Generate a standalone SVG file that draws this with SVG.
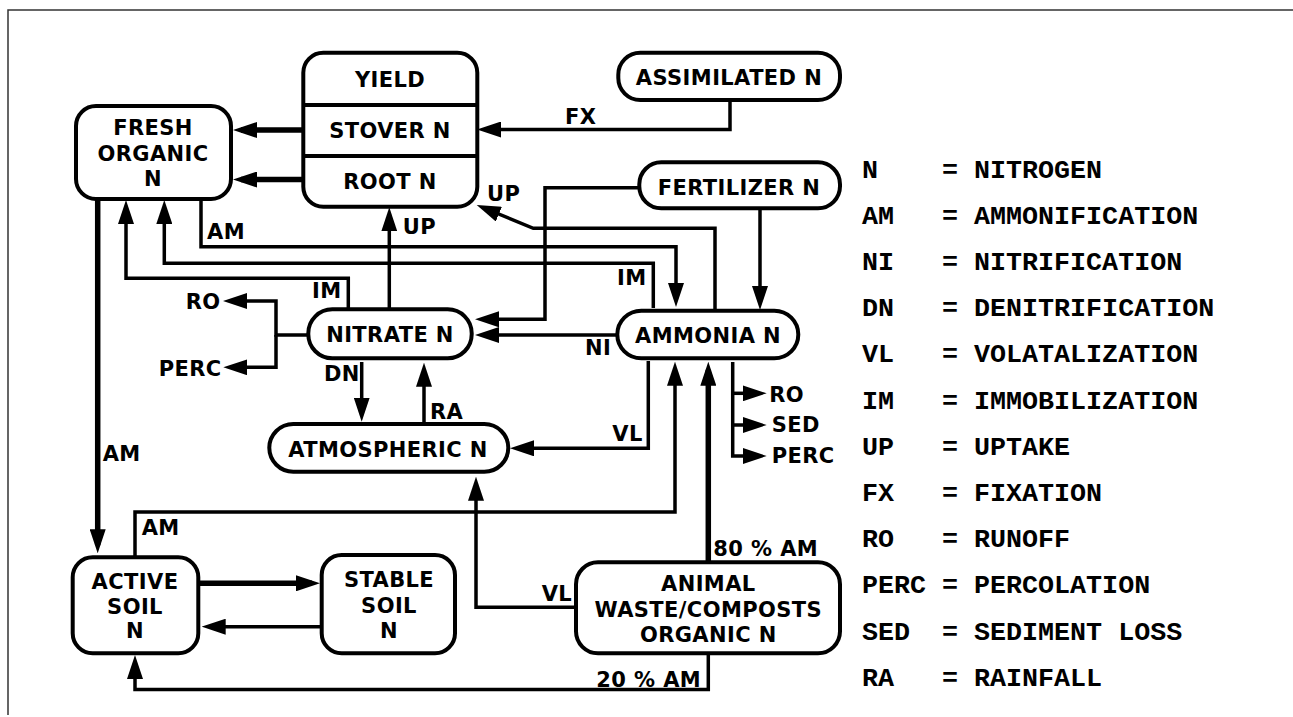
<svg xmlns="http://www.w3.org/2000/svg" width="1293" height="717" viewBox="0 0 1293 717">
<style>
.box{fill:#fff;stroke:#000;stroke-width:4}
.t{font-family:"DejaVu Sans",Verdana,sans-serif;font-weight:bold;font-size:21px;letter-spacing:0.4px;fill:#000}
.c{text-anchor:middle}
.ln{fill:none;stroke:#000;stroke-width:3.5;stroke-linejoin:miter}
.thick{stroke-width:5.5}
.a{marker-end:url(#ah)}
.leg{font-family:"Liberation Mono","Courier New",monospace;font-weight:bold;font-size:26.7px;fill:#000}
</style>
<defs>
<marker id="ah" markerUnits="userSpaceOnUse" markerWidth="24" markerHeight="16" viewBox="0 0 24 16" refX="16" refY="8" orient="auto"><path d="M0,0 L24,8 L0,16 Z" fill="#000"/></marker>
</defs>
<rect width="1293" height="717" fill="#fff"/>
<path d="M8,715 V10 H1293" fill="none" stroke="#333" stroke-width="1.5"/>

<g id="connectors">
<path class="ln a" d="M730,100 V129.5 H485"/>
<path class="ln thick a" d="M303,130 H241"/>
<path class="ln thick a" d="M303,179.5 H241"/>
<path class="ln a" d="M639,187.7 H545 V319.3 H483"/>
<path class="ln a" d="M760,208 V302"/>
<path class="ln a" d="M715,310 V228.3 H533.3 L484.1,208"/>
<path class="ln a" d="M389.3,309 V215.3"/>
<path class="ln a" d="M201,200 V246.7 H676 V299"/>
<path class="ln a" d="M653.3,308 V263.3 H164.3 V208"/>
<path class="ln a" d="M348.3,309 V278.3 H126 V208"/>
<path class="ln thick a" d="M97.7,199 V545.3"/>
<path class="ln a" d="M308,335 H276 V301 H231"/>
<path class="ln a" d="M276,335 V367.3 H231.3"/>
<path class="ln a" d="M361.7,362 V413.7"/>
<path class="ln a" d="M424,424 V370.7"/>
<path class="ln a" d="M617,335 H483"/>
<path class="ln a" d="M648.3,361 V448.3 H518"/>
<path class="ln a" d="M732.7,362 V456 H758.7"/>
<path class="ln a" d="M732.7,393.3 H758.7"/>
<path class="ln a" d="M732.7,425 H758.7"/>
<path class="ln a" d="M135,557 V512 H675 V369.7"/>
<path class="ln thick a" d="M708.3,562 V369.7"/>
<path class="ln a" d="M576,607.3 H476 V484.7"/>
<path class="ln a" d="M708.3,653 V689.5 H135 V663"/>
<path class="ln thick a" d="M198,583.3 H312"/>
<path class="ln a" d="M321.7,626.7 H209.7"/>
</g>

<g id="labels">
<text class="t" x="565" y="124">FX</text>
<text class="t" x="487" y="200.5">UP</text>
<text class="t" x="402.7" y="234">UP</text>
<text class="t" x="207" y="239">AM</text>
<text class="t" x="312" y="298">IM</text>
<text class="t" x="617" y="285">IM</text>
<text class="t" x="185.7" y="309">RO</text>
<text class="t" x="158.7" y="375.5">PERC</text>
<text class="t" x="324" y="381">DN</text>
<text class="t" x="430" y="419">RA</text>
<text class="t" x="585" y="355">NI</text>
<text class="t" x="612.3" y="441">VL</text>
<text class="t" x="769.3" y="401.5">RO</text>
<text class="t" x="771.7" y="432">SED</text>
<text class="t" x="771.7" y="462.5">PERC</text>
<text class="t" x="102.7" y="460.5">AM</text>
<text class="t" x="141.7" y="534.5">AM</text>
<text class="t" x="713.3" y="556">80 % AM</text>
<text class="t" x="541.7" y="601">VL</text>
<text class="t" x="596.3" y="686.5">20 % AM</text>
</g>

<g id="plant">
<rect class="box" x="303.3" y="52.7" width="174" height="154" rx="20"/>
<path d="M303.3,105 H477.3 M303.3,156 H477.3" stroke="#000" stroke-width="4"/>
<text class="t c" x="390" y="87.3">YIELD</text>
<text class="t c" x="390" y="138.3">STOVER N</text>
<text class="t c" x="390" y="189.3">ROOT N</text>
</g>
<g id="assimilated">
<rect class="box" x="618.3" y="52.7" width="221.7" height="47.3" rx="22"/>
<text class="t c" x="729" y="85.3">ASSIMILATED N</text>
</g>
<g id="fertilizer">
<rect class="box" x="639.3" y="162.3" width="200.7" height="46" rx="22"/>
<text class="t c" x="739" y="195.3">FERTILIZER N</text>
</g>
<g id="fresh">
<rect class="box" x="76" y="106" width="155" height="93" rx="20"/>
<text class="t c" x="153" y="135.3">FRESH</text>
<text class="t c" x="153" y="161.3">ORGANIC</text>
<text class="t c" x="153" y="186.3">N</text>
</g>
<g id="nitrate">
<rect class="box" x="308.3" y="309.3" width="163.4" height="49" rx="24"/>
<text class="t c" x="390" y="342.3">NITRATE N</text>
</g>
<g id="ammonia">
<rect class="box" x="617.3" y="310.7" width="181" height="47.6" rx="24"/>
<text class="t c" x="708" y="343.3">AMMONIA N</text>
</g>
<g id="atmospheric">
<rect class="box" x="269.3" y="424" width="239" height="47.7" rx="24"/>
<text class="t c" x="388" y="456.8">ATMOSPHERIC N</text>
</g>
<g id="active">
<rect class="box" x="72.7" y="557.3" width="125.6" height="96" rx="20"/>
<text class="t c" x="135" y="589.3">ACTIVE</text>
<text class="t c" x="135" y="614.3">SOIL</text>
<text class="t c" x="135" y="638.3">N</text>
</g>
<g id="stable">
<rect class="box" x="321.7" y="555" width="133.3" height="98.3" rx="20"/>
<text class="t c" x="389" y="587.3">STABLE</text>
<text class="t c" x="389" y="613.3">SOIL</text>
<text class="t c" x="389" y="638.3">N</text>
</g>
<g id="animal">
<rect class="box" x="576" y="562.3" width="264" height="91" rx="22"/>
<text class="t c" x="708.3" y="590.8">ANIMAL</text>
<text class="t c" x="708.3" y="616.8">WASTE/COMPOSTS</text>
<text class="t c" x="708.3" y="641.8">ORGANIC N</text>
</g>

<g id="legend" class="leg">
<text y="177.5"><tspan x="862">N</tspan><tspan x="942">=</tspan><tspan x="974">NITROGEN</tspan></text>
<text y="223.7"><tspan x="862">AM</tspan><tspan x="942">=</tspan><tspan x="974">AMMONIFICATION</tspan></text>
<text y="269.9"><tspan x="862">NI</tspan><tspan x="942">=</tspan><tspan x="974">NITRIFICATION</tspan></text>
<text y="316.1"><tspan x="862">DN</tspan><tspan x="942">=</tspan><tspan x="974">DENITRIFICATION</tspan></text>
<text y="362.3"><tspan x="862">VL</tspan><tspan x="942">=</tspan><tspan x="974">VOLATALIZATION</tspan></text>
<text y="408.5"><tspan x="862">IM</tspan><tspan x="942">=</tspan><tspan x="974">IMMOBILIZATION</tspan></text>
<text y="454.7"><tspan x="862">UP</tspan><tspan x="942">=</tspan><tspan x="974">UPTAKE</tspan></text>
<text y="500.9"><tspan x="862">FX</tspan><tspan x="942">=</tspan><tspan x="974">FIXATION</tspan></text>
<text y="547.1"><tspan x="862">RO</tspan><tspan x="942">=</tspan><tspan x="974">RUNOFF</tspan></text>
<text y="593.3"><tspan x="862">PERC</tspan><tspan x="942">=</tspan><tspan x="974">PERCOLATION</tspan></text>
<text y="639.5"><tspan x="862">SED</tspan><tspan x="942">=</tspan><tspan x="974">SEDIMENT LOSS</tspan></text>
<text y="685.7"><tspan x="862">RA</tspan><tspan x="942">=</tspan><tspan x="974">RAINFALL</tspan></text>
</g>
</svg>
